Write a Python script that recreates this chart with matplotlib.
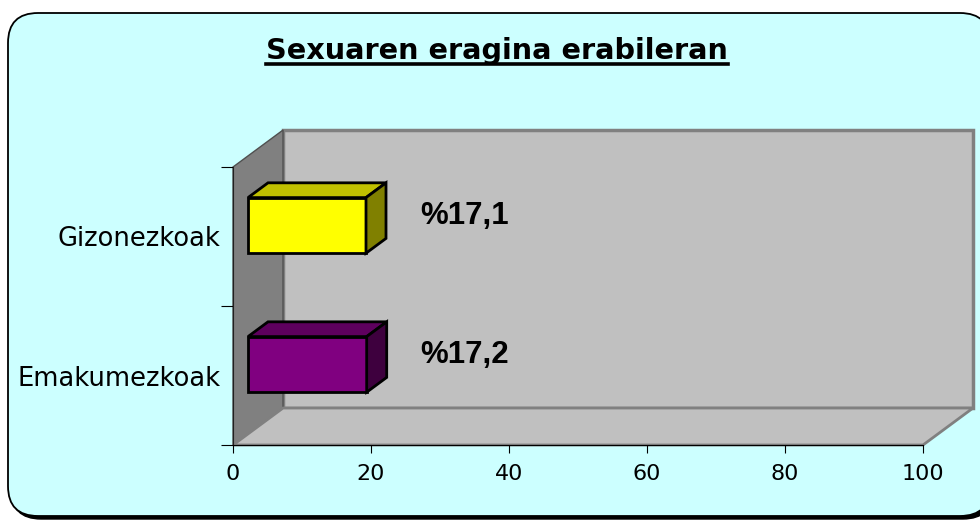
import matplotlib
matplotlib.use("Agg")
import matplotlib.pyplot as plt
from matplotlib.patches import Polygon, FancyBboxPatch
from matplotlib.lines import Line2D
import numpy as np

# data
categories = ["Emakumezkoak", "Gizonezkoak"]
values = [17.2, 17.1]
value_labels = ["%17,2", "%17,1"]
front_colors = ["#800080", "#FFFF00"]
top_colors = ["#5E005E", "#C0C000"]
side_colors = ["#3E003E", "#808000"]
title = "Sexuaren eragina erabileran"

# depth of the fake 3d box, in data units
DX = 7.25
DY = 0.266
b0, b1 = 0.3, 0.7   # bar sits between these depth fractions
bh = 0.4            # bar height

fig = plt.figure(figsize=(9.8, 5.22), dpi=100)
fig.patch.set_facecolor("white")

# rounded background box
bg = fig.add_axes([0, 0, 1, 1], zorder=0)
bg.set_xlim(0, 980)
bg.set_ylim(522, 0)
bg.axis("off")
bg.add_patch(FancyBboxPatch((11, 16), 982, 503, boxstyle="round,pad=0,rounding_size=30",
                            facecolor="black", edgecolor="black", lw=1))
bg.add_patch(FancyBboxPatch((8, 13), 982, 503, boxstyle="round,pad=0,rounding_size=30",
                            facecolor="#CCFFFF", edgecolor="black", lw=1.3))

ax = fig.add_axes([233/980, 77/522, 690/980, 278/522], zorder=1)
ax.set_facecolor("none")
ax.set_xlim(0, 100)
ax.set_ylim(-0.5, 1.5)
y0, y1 = -0.5, 1.5

# walls and floor
left_wall = Polygon([(0, y0), (0, y1), (DX, y1 + DY), (DX, y0 + DY)], closed=True,
                    facecolor="#808080", edgecolor="#505050", lw=1, clip_on=False, zorder=0.5)
back_wall = Polygon([(DX, y0 + DY), (DX, y1 + DY), (100 + DX, y1 + DY), (100 + DX, y0 + DY)],
                    closed=True, facecolor="#C0C0C0", edgecolor="#808080", lw=2.5,
                    clip_on=False, zorder=0.4)
floor = Polygon([(0, y0), (100, y0), (100 + DX, y0 + DY), (DX, y0 + DY)], closed=True,
                facecolor="#C0C0C0", edgecolor="#808080", lw=2, clip_on=False, zorder=0.6)
for p in (back_wall, left_wall, floor):
    ax.add_patch(p)

# bars: front faces through barh, top and side faces as polygons
ypos = np.arange(len(categories))
yb = ypos + b0 * DY
ax.barh(yb, values, left=b0 * DX, height=bh, color=front_colors, edgecolor="black",
        lw=2, zorder=3)
d = (b1 - b0)
for i, v in enumerate(values):
    x0 = b0 * DX
    lo = yb[i] - bh / 2
    hi = yb[i] + bh / 2
    top = [(x0, hi), (x0 + v, hi), (x0 + v + d * DX, hi + d * DY), (x0 + d * DX, hi + d * DY)]
    side = [(x0 + v, lo), (x0 + v, hi), (x0 + v + d * DX, hi + d * DY), (x0 + v + d * DX, lo + d * DY)]
    ax.add_patch(Polygon(top, closed=True, facecolor=top_colors[i], edgecolor="black",
                         lw=2, zorder=3, joinstyle="miter"))
    ax.add_patch(Polygon(side, closed=True, facecolor=side_colors[i], edgecolor="black",
                         lw=2, zorder=3, joinstyle="miter"))
    ax.text(v + 10, ypos[i] + 0.55 * DY, value_labels[i], fontsize=22.5, fontweight="bold",
            family="Liberation Sans", ha="left", va="center", zorder=4)

# axes
for s in ("top", "right"):
    ax.spines[s].set_visible(False)
ax.spines["left"].set_color("#202020")
ax.spines["bottom"].set_color("black")
ax.spines["left"].set_zorder(2)
ax.spines["bottom"].set_zorder(2)
ax.set_xticks(np.arange(0, 101, 20))
ax.tick_params(axis="x", length=6, labelsize=16, pad=8)
ax.set_yticks([-0.5, 0.5, 1.5])
ax.set_yticklabels([])
ax.set_yticks(ypos, minor=True)
ax.set_yticklabels(categories, minor=True)
ax.tick_params(axis="y", which="major", length=9)
ax.tick_params(axis="y", which="minor", length=0, labelsize=18.5, pad=9)

# title with underline
t = fig.text(497/980, 1 - 51/522, title, fontsize=20.7, fontweight="bold",
             ha="center", va="center")
fig.canvas.draw()
bb = t.get_window_extent()
uy = bb.y0 + 1
fig.add_artist(Line2D([bb.x0, bb.x1], [uy, uy], color="black", lw=2.6, transform=None))

fig.savefig("out.png", dpi=100)
